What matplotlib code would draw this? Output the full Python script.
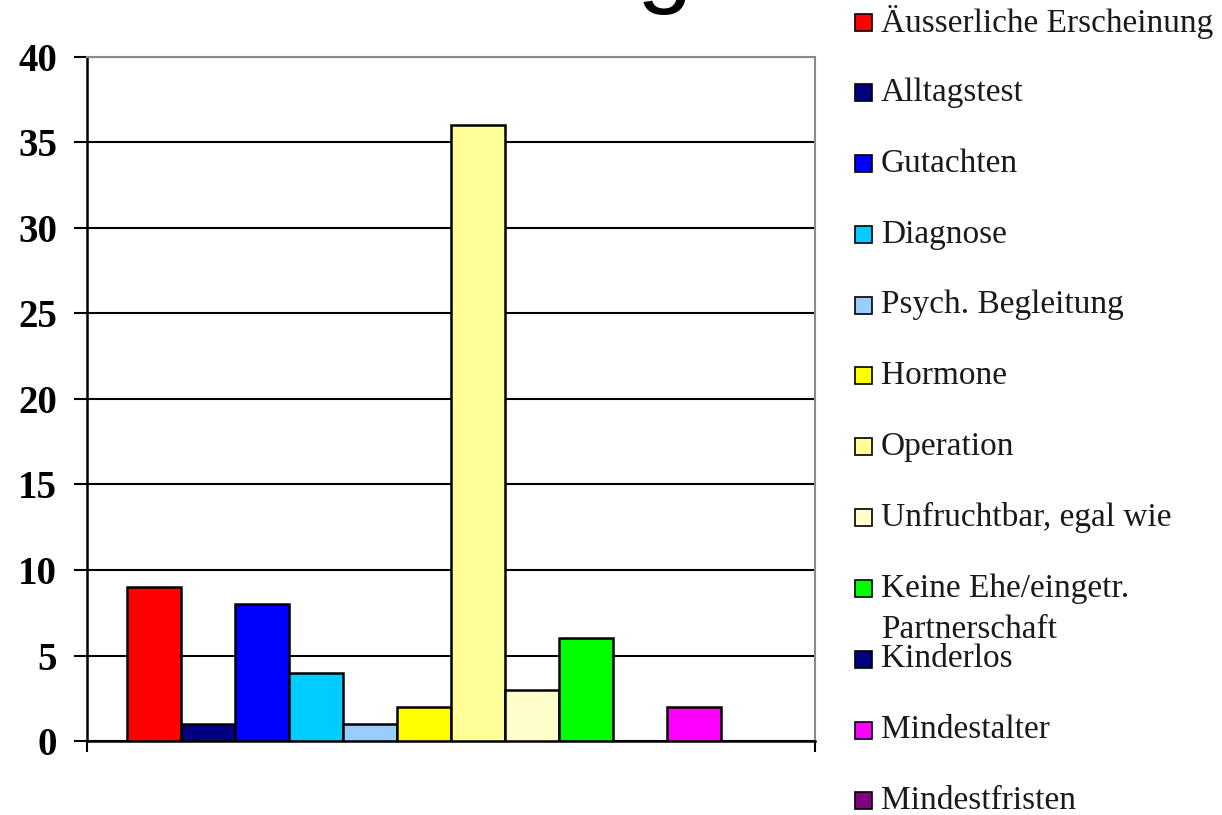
import matplotlib
matplotlib.use("Agg")
import matplotlib.pyplot as plt
from matplotlib.patches import Rectangle

# ---- data ----
categories = ["Äusserliche Erscheinung", "Alltagstest", "Gutachten", "Diagnose",
              "Psych. Begleitung", "Hormone", "Operation", "Unfruchtbar, egal wie",
              "Keine Ehe/eingetr.\nPartnerschaft", "Kinderlos", "Mindestalter",
              "Mindestfristen"]
values = [9, 1, 8, 4, 1, 2, 36, 3, 6, 0, 2, 0]
colors = ["#FF0000", "#000080", "#0000FF", "#00CCFF", "#99CCFF", "#FFFF00",
          "#FFFF99", "#FFFFCC", "#00FF00", "#000080", "#FF00FF", "#800080"]
yticks = [0, 5, 10, 15, 20, 25, 30, 35, 40]

W, H = 1222, 815
fig = plt.figure(figsize=(W / 100, H / 100), dpi=100)

def fx(px):
    return px / W

def fy(py):
    return 1 - py / H

# axes placement (pixels)
left, right, top, bottom = 87, 815, 57, 741
ax = fig.add_axes([fx(left), fy(bottom), fx(right - left), (bottom - top) / H])

n = len(values)
group = 0.89
bw = group / n
xs = [-group / 2 + bw * (i + 0.5) for i in range(n)]
ax.bar(xs, values, width=bw, color=colors, edgecolor="black", linewidth=1.8, zorder=3)

ax.set_xlim(-0.5, 0.5)
ax.set_ylim(0, 40)
ax.set_yticks(yticks)
ax.set_yticklabels([str(t) for t in yticks], fontfamily="Liberation Serif",
                   fontweight="bold", fontsize=28)
ax.yaxis.grid(True, color="black", linewidth=1.5, zorder=1)
ax.tick_params(axis="y", direction="out", length=9.5, width=1.5, color="black", pad=12)
ax.set_xticks([-0.5, 0.5])
ax.set_xticklabels(["", ""])
ax.tick_params(axis="x", direction="out", length=8, width=1.5, color="black")
ax.spines["left"].set_color("black")
ax.spines["left"].set_linewidth(1.8)
ax.spines["bottom"].set_color("black")
ax.spines["bottom"].set_linewidth(1.8)
for s in ("top", "right"):
    ax.spines[s].set_color("#8a8a8a")
    ax.spines[s].set_linewidth(1.5)

# partially visible title glyph at the top edge
fig.text(fx(665), fy(-6), "g", fontfamily="Liberation Sans", fontsize=72,
         ha="center", va="baseline")

# ---- legend (manual, Excel-like) ----
y0, step = 22, 70.8
line_gap = 41
for i, (lab, col) in enumerate(zip(categories, colors)):
    yc = y0 + step * i
    sq = 17
    fig.patches.append(Rectangle((fx(855), fy(yc + sq / 2)), sq / W, sq / H,
                                 transform=fig.transFigure, facecolor=col,
                                 edgecolor="black", linewidth=1.2))
    for j, line in enumerate(lab.split("\n")):
        fig.text(fx(881), fy(yc + j * line_gap), line, fontfamily="Liberation Serif",
                 fontsize=24, ha="left", va="center", color="#1a1a1a")

fig.savefig("out.png", dpi=100)
